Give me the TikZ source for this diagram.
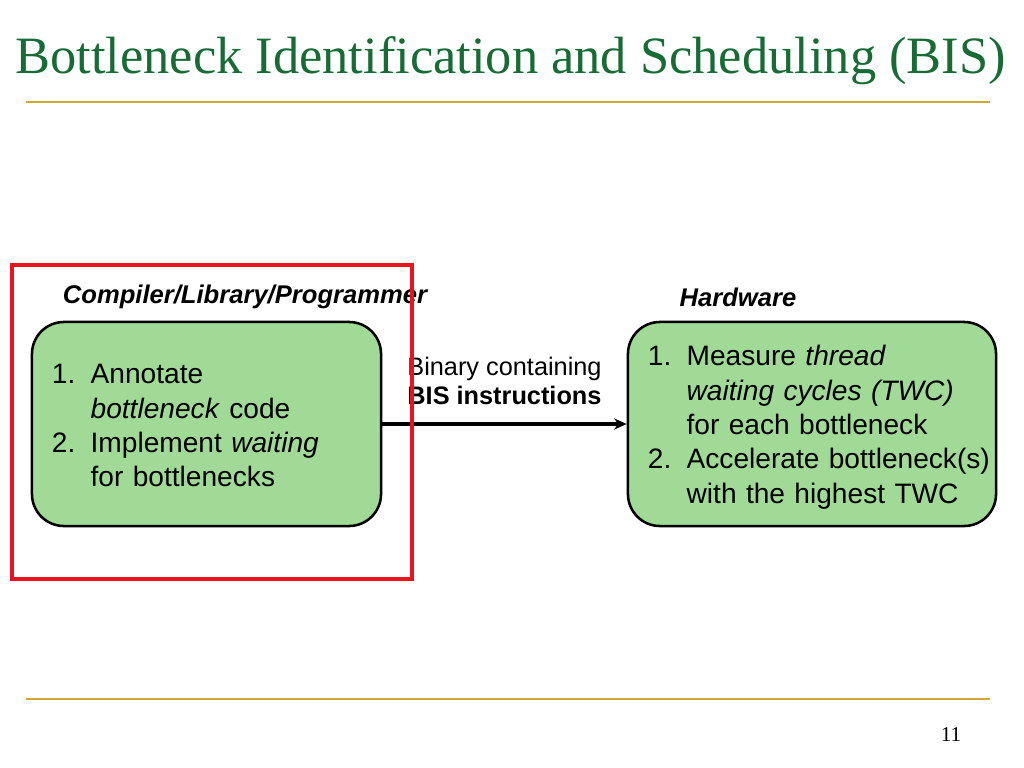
\documentclass[tikz,border=0pt]{standalone}
\usepackage{fontspec}
\setmainfont{Liberation Serif}
\setsansfont{Liberation Sans}
\usepackage{tikz}
\usetikzlibrary{positioning,arrows.meta}
\definecolor{titlegreen}{RGB}{22,108,52}
\definecolor{rulegold}{RGB}{208,166,52}
\definecolor{boxgreen}{RGB}{160,218,150}
\definecolor{markred}{RGB}{232,22,28}
\tikzstyle{arrow} = [line width=2.2pt,-{Stealth[length=9pt,width=8pt]}]
\tikzstyle{rule} = [line width=2pt, draw=rulegold]

\begin{document}
\begin{tikzpicture}[x=0.025cm,y=-0.025cm]
			\tikzstyle{stage} = [rectangle, rounded corners=0.8cm, draw=black, line width=1.8pt, fill=boxgreen, align=left, inner xsep=0.5cm, minimum height=5.1cm, font=\sffamily\fontsize{20}{24.4}\selectfont];
			\tikzstyle{who} = [font=\sffamily\bfseries\itshape\fontsize{18.2}{22}\selectfont];
			\useasboundingbox (0,0) rectangle (1024,768);
			\node (title) [anchor=base west, inner sep=0pt, text=titlegreen, font=\fontsize{37.3}{44}\selectfont] at (15,74) {Bottleneck Identification and Scheduling (BIS)};
			\draw [rule] (26,102) -- (990,102);
			\draw [rule] (26,699) -- (990,699);
			\node (page) [anchor=base, font=\fontsize{15}{18}\selectfont] at (951,741) {11};
			\node (soft) [stage, text width=7.725cm] at (206.5,424) {\raisebox{-3.2pt}[\height][\depth]{\begin{tabular}{@{}p{27.5pt}@{}l@{}}1. & Annotate\\ & \textit{bottleneck} code\\ 2. & Implement \textit{waiting}\\ & for bottlenecks\end{tabular}}};
			\node (hard) [stage, text width=8.2cm] at (812,424) {\raisebox{-2.5pt}[\height][\depth]{\begin{tabular}{@{}p{27.5pt}@{}l@{}}1. & Measure \textit{thread}\\ & \textit{waiting cycles (TWC)}\\ & for each bottleneck\\ 2. & Accelerate bottleneck(s)\\ & with the highest TWC\end{tabular}}};
			\node (softlbl) [who] at (245,297) {Compiler/Library/Programmer};
			\node (hardlbl) [who] at (738,297) {Hardware};
			\draw [arrow] (soft) -- node [above=9pt, align=center, font=\sffamily\fontsize{18}{21}\selectfont] (binary) {Binary containing\\\textbf{BIS instructions}} (hard);
			\draw [line width=2.8pt, draw=markred] (12,265) rectangle (412,579);
		\end{tikzpicture}
\end{document}
